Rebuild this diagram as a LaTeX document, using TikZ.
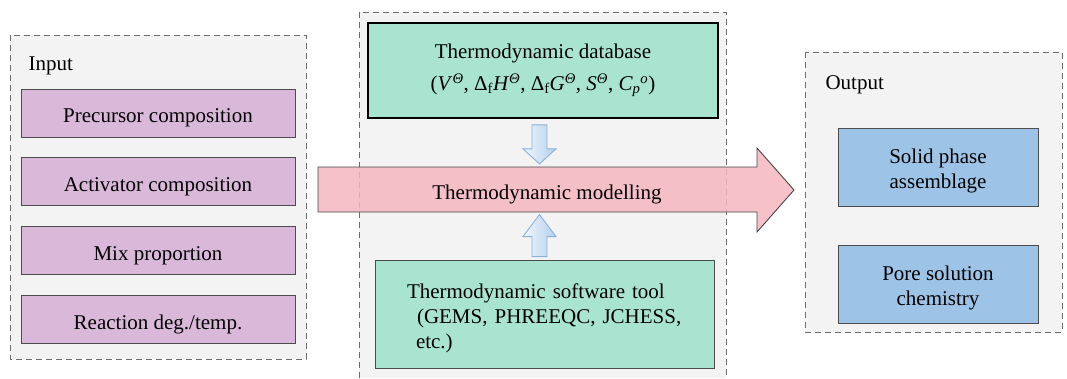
\documentclass[tikz,border=0pt]{standalone}
\usepackage{fontspec}
\setmainfont{Liberation Serif}
\usetikzlibrary{positioning}

\definecolor{panelgray}{RGB}{243,243,243}
\definecolor{inputpurple}{RGB}{217,184,218}
\definecolor{modelteal}{RGB}{168,228,208}
\definecolor{outputblue}{RGB}{157,195,230}
\definecolor{arrowpink}{RGB}{245,182,192}
\definecolor{feedblue}{RGB}{180,208,238}
\definecolor{feedbluedark}{RGB}{140,178,216}

\tikzset{
    panel/.style={draw=gray!85!black, dash pattern=on 6pt off 4pt, line width=0.9pt},
    inbox/.style={rectangle, draw=gray!60!black, fill=inputpurple, text height=19pt, text depth=0pt,
        minimum width=274pt, minimum height=48pt, line width=0.9pt},
    toolbox/.style={rectangle, fill=modelteal, line width=0.9pt},
    outbox/.style={rectangle, draw=gray!60!black, fill=outputblue, align=center,
        text height=42pt, text depth=0pt,
        minimum width=200pt, minimum height=78pt, line width=0.9pt},
    feed/.style={draw=feedbluedark, left color=white!80!feedblue, right color=feedblue,
        line width=0.9pt, line join=miter},
    modelarrow/.style={draw=gray!55!black, fill=arrowpink, fill opacity=0.85, line width=0.9pt}
}

\begin{document}
\begin{tikzpicture}[x=1pt, y=-1pt, font=\fontsize{21}{25}\selectfont]
    \useasboundingbox (0,0) rectangle (1067,378);

    % the three panels
    \filldraw[panel, fill=panelgray] (10,35) rectangle (306,359);
    \fill[panelgray] (359,12) rectangle (726,378);
    \draw[panel] (359,378) -- (359,12) -- (726,12) -- (726,378);
    \filldraw[panel, fill=panelgray] (805,52) rectangle (1062,332);

    % input side
    \node[anchor=base west] (inlabel) at (25,70) {Input};
    \node[inbox] (prec) at (158,113) {Precursor composition};
    \node[inbox, below=20pt of prec] (act) {Activator composition};
    \node[inbox, below=20pt of act] (mix) {Mix proportion};
    \node[inbox, below=20pt of mix] (react) {Reaction deg./temp.};

    % modelling block
    \node[toolbox, draw=black, line width=1.8pt, align=center,
          minimum width=350pt, minimum height=95pt] (db) at (543,70.5)
        {Thermodynamic database\\[7pt]
         (\textit{V}\textsuperscript{\textit{Θ}}, Δ\textsubscript{f}\textit{H}\textsuperscript{\textit{Θ}},
          Δ\textsubscript{f}\textit{G}\textsuperscript{\textit{Θ}}, \textit{S}\textsuperscript{\textit{Θ}},
          \textit{C\textsubscript{p}}\textsuperscript{\textit{o}})};
    \node[toolbox, draw=gray!60!black, align=left, text width=275pt, inner xsep=32pt,
          text height=24pt,
          minimum width=339pt, minimum height=108pt] (sw) at (544.5,314)
        {Thermodynamic software tool\\
         \hspace*{10pt}(GEMS, PHREEQC, JCHESS,\\
         \hspace*{9pt}etc.)};

    \draw[modelarrow] (318,167) -- (757,167) -- (757,148) -- (794,190)
        -- (757,232) -- (757,212) -- (318,212) -- cycle;
    \node (model) at (547,194) {Thermodynamic modelling};

    % feeds into the modelling arrow
    \draw[feed] ([xshift=-11pt, yshift=-6pt]db.south) -- ++(15,0) -- ++(0,24) -- ++(9,0)
        -- ++(-16.5,15) -- ++(-16.5,-15) -- ++(9,0) -- cycle;
    \draw[feed] ([xshift=-12.5pt, yshift=3pt]sw.north) -- ++(15,0) -- ++(0,-20) -- ++(9,0)
        -- ++(-16.5,-22) -- ++(-16.5,22) -- ++(9,0) -- cycle;

    % output side
    \node[anchor=base west] (outlabel) at (822,89) {Output};
    \node[outbox] (solid) at (938,167.5) {Solid phase\\ assemblage};
    \node[outbox] (pore) at (938,284) {Pore solution\\ chemistry};
\end{tikzpicture}
\end{document}
